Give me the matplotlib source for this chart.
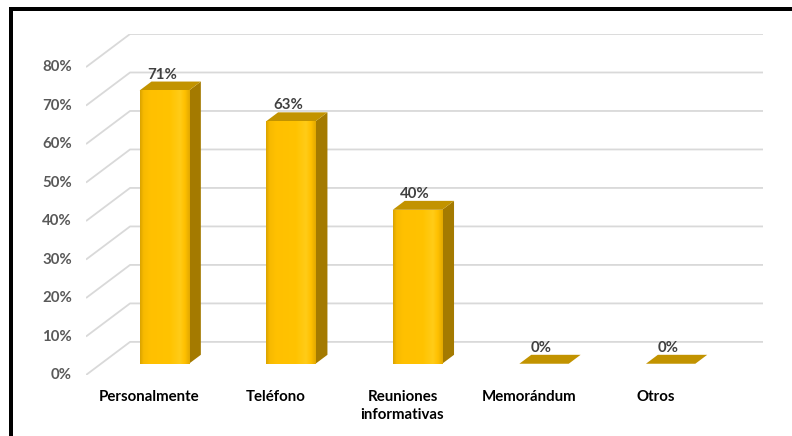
import numpy as np
import matplotlib
matplotlib.use("Agg")
import matplotlib.pyplot as plt
from matplotlib.patches import Polygon, Rectangle
from matplotlib.colors import LinearSegmentedColormap

categories = ["Personalmente", "Teléfono", "Reuniones\ninformativas", "Memorándum", "Otros"]
values = [71, 63, 40, 0, 0]
value_labels = ["71%", "63%", "40%", "0%", "0%"]
y_ticks = [0, 10, 20, 30, 40, 50, 60, 70, 80]
y_tick_labels = [f"{t}%" for t in y_ticks]

plt.rcParams["font.family"] = ["Lato", "DejaVu Sans"]

# oblique projection of the depth axis (back wall offset, in data units)
DX = 0.348
DY = 8.6
D_FRONT = 0.34
D_BACK = 0.61
BAR_W = 0.39


def proj(x, y, d):
    return (x + d * DX, y + d * DY)


fig = plt.figure(figsize=(7.92, 4.36), dpi=100)
fig.patch.set_facecolor("white")
ax = fig.add_axes([86 / 792, (436 - 375) / 436, (763 - 86) / 792, (375 - 34) / 436])
ax.set_xlim(-0.5, 4.5 + DX)
ax.set_ylim(0, 80 + DY)
ax.axis("off")

# floor/side diagonals and back-wall gridlines
grid_c = "#d9d9d9"
x_left, x_right = -0.5, len(categories) - 0.5
for t in y_ticks:
    p0 = proj(x_left, t, 0)
    p1 = proj(x_left, t, 1)
    p2 = proj(x_right, t, 1)
    ax.plot([p0[0], p1[0], p2[0]], [p0[1], p1[1], p2[1]], color=grid_c, lw=1.3,
            zorder=1, solid_capstyle="butt")

# tick labels on the front plane
for t, lab in zip(y_ticks, y_tick_labels):
    ax.annotate(lab, (x_left, t), xytext=(-10, 0), textcoords="offset points",
                ha="right", va="center", fontsize=10.8, fontweight="bold",
                color="#595959", annotation_clip=False)

# category labels
for i, cat in enumerate(categories):
    ax.annotate(cat, (i, 0), xytext=(0, -10.5), textcoords="offset points",
                ha="center", va="top", fontsize=10.8, fontweight="bold",
                color="black", linespacing=1.4, annotation_clip=False)

face_cmap = LinearSegmentedColormap.from_list(
    "face", [(0.0, "#D9A200"), (0.07, "#F7BA00"), (0.2, "#FFC000"),
             (0.6, "#FFC300"), (0.8, "#FFCC18"), (0.9, "#FFC000"),
             (1.0, "#E2A800")])
grad = np.linspace(0, 1, 256).reshape(1, -1)

side_c = "#A47A00"
top_c = "#C29300"

for i, v in enumerate(values):
    xl = i - BAR_W / 2
    xr = i + BAR_W / 2
    # right side face
    if v > 0:
        side = Polygon([proj(xr, 0, D_FRONT), proj(xr, 0, D_BACK),
                        proj(xr, v, D_BACK), proj(xr, v, D_FRONT)],
                       closed=True, facecolor=side_c, edgecolor="none", zorder=3)
        ax.add_patch(side)
    # top face
    top = Polygon([proj(xl, v, D_FRONT), proj(xr, v, D_FRONT),
                   proj(xr, v, D_BACK), proj(xl, v, D_BACK)],
                  closed=True, facecolor=top_c, edgecolor="none", zorder=3)
    ax.add_patch(top)
    # front face with shading
    if v > 0:
        fx0, fy0 = proj(xl, 0, D_FRONT)
        fx1, fy1 = proj(xr, v, D_FRONT)
        bars = ax.bar(fx0, v, width=fx1 - fx0, bottom=fy0, align="edge",
                      color="#FFC000", edgecolor="none", zorder=4)
        im = ax.imshow(grad, cmap=face_cmap, aspect="auto",
                       extent=(fx0, fx1, fy0, fy1), zorder=5,
                       interpolation="bilinear")
        im.set_clip_path(bars.patches[0])
    # value label
    lx, ly = proj(i, v, D_FRONT)
    ax.annotate(value_labels[i], (lx - 0.02, ly), xytext=(0, 11.5),
                textcoords="offset points", ha="center", va="center",
                fontsize=10.8, fontweight="bold", color="#404040", zorder=6)

ax.set_xlim(-0.5, 4.5 + DX)
ax.set_ylim(0, 80 + DY)

# chart frame (top and left edges)
fig.add_artist(Rectangle((10 / 792, 1 - 11 / 436), 1, 4 / 436, transform=fig.transFigure,
                         facecolor="black", edgecolor="none"))
fig.add_artist(Rectangle((9 / 792, 0), 4 / 792, 1 - 7 / 436, transform=fig.transFigure,
                         facecolor="black", edgecolor="none"))

fig.savefig("out.png", dpi=100)
